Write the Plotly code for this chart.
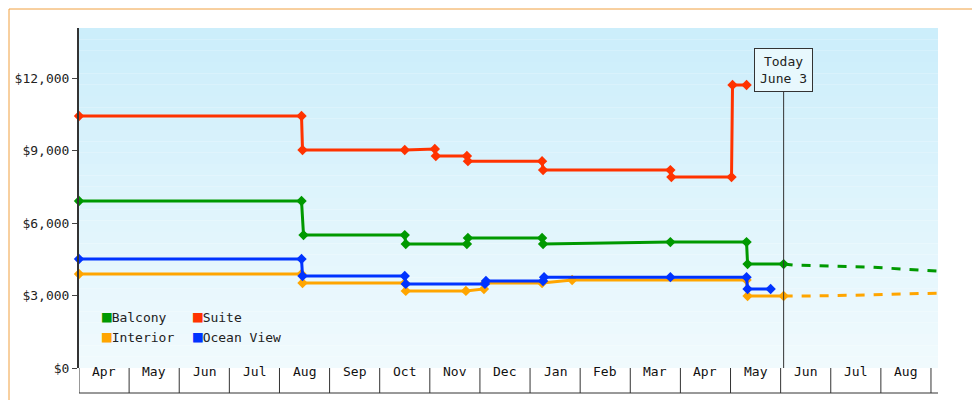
import plotly.graph_objects as go

months = ["Apr","May","Jun","Jul","Aug","Sep","Oct","Nov","Dec","Jan","Feb","Mar","Apr","May","Jun","Jul","Aug"]

balcony_x = [0, 4.44, 4.48, 6.5, 6.52, 7.74, 7.76, 9.24, 9.26, 11.8, 13.32, 13.34, 14.06]
balcony_y = [6910, 6910, 5500, 5500, 5130, 5130, 5380, 5380, 5130, 5210, 5210, 4300, 4300]
balcony_fx = [14.06, 14.24, 15.74, 17.14]
balcony_fy = [4300, 4260, 4180, 4010]

suite_x = [0, 4.44, 4.46, 6.5, 7.1, 7.12, 7.74, 7.76, 9.24, 9.26, 11.8, 11.82, 13.02, 13.04, 13.32]
suite_y = [10430, 10430, 9020, 9020, 9060, 8770, 8770, 8560, 8560, 8190, 8190, 7900, 7900, 11710, 11710]

ocean_x = [0, 4.44, 4.46, 6.5, 6.52, 8.1, 8.12, 9.26, 9.28, 11.8, 13.32, 13.34, 13.8]
ocean_y = [4510, 4510, 3810, 3810, 3480, 3480, 3600, 3600, 3760, 3760, 3760, 3270, 3270]

interior_x = [0, 4.44, 4.46, 6.5, 6.52, 7.72, 8.08, 8.1, 9.24, 9.84, 13.32, 13.34, 14.06]
interior_y = [3890, 3890, 3520, 3520, 3190, 3190, 3270, 3520, 3520, 3640, 3640, 2980, 2980]
interior_fx = [14.06, 14.54, 15.74, 17.14]
interior_fy = [2980, 2980, 3020, 3100]

today_x = 14.06
C = {"Balcony": "#009900", "Suite": "#ff3300", "Interior": "#ffa500", "Ocean View": "#0033ff"}

fig = go.Figure()
def add(x, y, c, dash=False):
    fig.add_trace(go.Scatter(x=x, y=y, mode="lines" if dash else "lines+markers",
        line=dict(color=c, width=3, dash="dash" if dash else "solid"),
        marker=dict(symbol="diamond", size=8, color=c), showlegend=False, hoverinfo="skip",
        cliponaxis=False))

add(interior_x, interior_y, C["Interior"])
add(interior_fx, interior_fy, C["Interior"], True)
add(ocean_x, ocean_y, C["Ocean View"])
add(balcony_x, balcony_y, C["Balcony"])
add(balcony_fx, balcony_fy, C["Balcony"], True)
add(suite_x, suite_y, C["Suite"])

shapes = []
N = 30
for i in range(N):
    t = i / N
    def mix(a, b): return int(a + (b - a) * t)
    col = "rgb(%d,%d,%d)" % (mix(204, 242), mix(238, 251), mix(251, 254))
    shapes.append(dict(type="rect", xref="paper", yref="paper", x0=0, x1=1,
                       y0=1 - (i + 1) / N, y1=1 - i / N, fillcolor=col, line_width=0, layer="below"))
h = 25 / 340
for i in range(len(months) + 1):
    shapes.append(dict(type="line", xref="x", yref="paper", x0=i, x1=i, y0=0, y1=-h,
                       line=dict(color="#333", width=1)))
shapes.append(dict(type="line", xref="paper", yref="paper", x0=0, x1=1, y0=-h, y1=-h, line=dict(color="#333", width=1)))
shapes.append(dict(type="line", xref="x", yref="paper", x0=today_x, x1=today_x, y0=0, y1=0.882, line=dict(color="#333", width=1)))
shapes.append(dict(type="rect", xref="paper", yref="paper", x0=-70/859, x1=1 + 49/859,
                   y0=-39/340, y1=1 + 19/340, line=dict(color="#f0a040", width=1)))

ann = [dict(x=i + 0.5, y=-h / 2, xref="x", yref="paper", text=m, showarrow=False,
            font=dict(size=13, color="#111")) for i, m in enumerate(months)]
ann.append(dict(x=today_x, y=0.94, xref="x", yref="paper", text="Today<br>June 3", showarrow=False,
                bgcolor="#e8f8fd", bordercolor="#333", borderwidth=1, borderpad=5, font=dict(size=13, color="#222")))
leg = [("Balcony", 0.024, 0.118), ("Suite", 0.13, 0.118), ("Interior", 0.024, 0.06), ("Ocean View", 0.13, 0.06)]
for name, lx, ly in leg:
    ann.append(dict(x=lx, y=ly, xref="paper", yref="paper", xanchor="left", showarrow=False,
                    text='<span style="color:%s;font-size:16px">■</span>%s' % (C[name], name),
                    font=dict(size=13, color="#222")))

fig.update_layout(
    width=980, height=400, margin=dict(l=71, r=50, t=20, b=40, autoexpand=False),
    paper_bgcolor="white", plot_bgcolor="rgba(0,0,0,0)",
    font=dict(family="DejaVu Sans Mono", size=12, color="#222"),
    xaxis=dict(range=[0, 17.14], showticklabels=False, showgrid=False, zeroline=False, ticks="", automargin=False),
    yaxis=dict(range=[0, 14070], tickvals=[0, 3000, 6000, 9000, 12000], tickformat="$,d",
               showgrid=False, zeroline=False, ticks="outside", ticklen=5, showline=True,
               linecolor="#333", linewidth=2, automargin=False, tickfont=dict(size=13)),
    shapes=shapes, annotations=ann,
)
fig.write_html("out.html")
